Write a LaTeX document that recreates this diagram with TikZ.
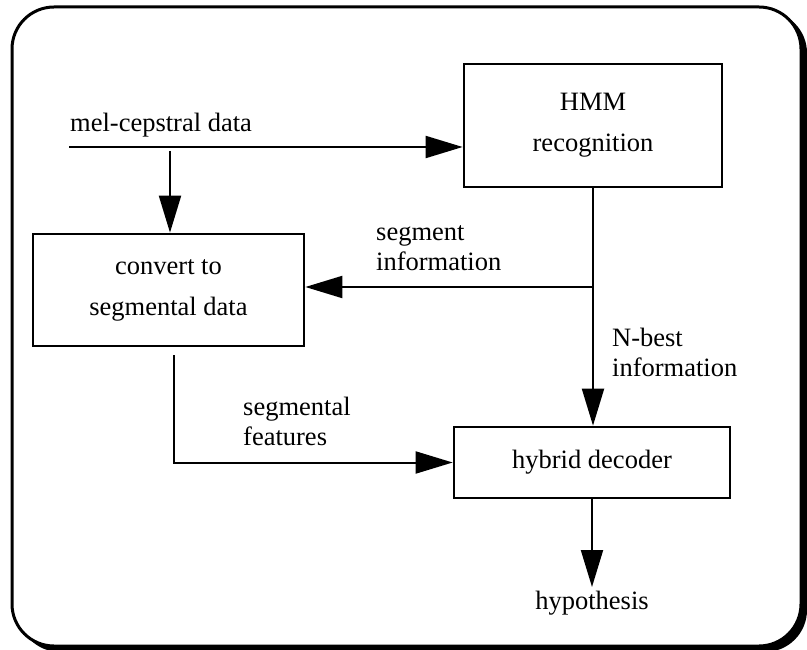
\documentclass[tikz,border=0pt]{standalone}
\usepackage{fontspec}
\setmainfont{Liberation Serif}
\usetikzlibrary{arrows.meta}
\begin{document}
\begin{tikzpicture}[x=1pt,y=-1pt,
  box/.style={draw,line width=2.7pt,inner sep=0pt,align=center,font=\fontsize{26.5}{41}\selectfont},
  lbl/.style={inner sep=0pt,align=left,font=\fontsize{26.5}{30}\selectfont},
  flow/.style={line width=2pt,-{Triangle[length=37pt,width=22pt]}},
  conn/.style={line width=2pt}]
\useasboundingbox (0,0) rectangle (807,650);
\clip (0,0) rectangle (807,650);
% frame with shadow
\fill[black,rounded corners=42pt] (18,11) rectangle (807,652);
\draw[line width=3pt,fill=white,rounded corners=42pt] (12,7) rectangle (801,646);
% boxes
\node[box,minimum width=258pt,minimum height=123pt] (hmm) at (593,125.5) {HMM\\recognition};
\node[box,minimum width=271pt,minimum height=112pt] (conv) at (168.5,290) {convert to\\segmental data};
\node[box,minimum width=276pt,minimum height=71pt] (hyb) at (592,462.5) {hybrid decoder};
% labels
\node[lbl,anchor=west] (mel) at (70,125) {mel-cepstral data};
\node[lbl,anchor=west] (seginfo) at (376,248) {segment\\information};
\node[lbl,anchor=west] (nbest) at (612,352.5) {N-best\\information};
\node[lbl,anchor=west] (segfeat) at (243,421) {segmental\\features};
\node[lbl] (hypo) at (592,603) {hypothesis};
% connectors
\coordinate (melstart) at (69,147);
\draw[flow] (melstart) -- (melstart -| hmm.west);
\coordinate (d1) at (170,151);
\draw[flow] (d1) -- (d1 |- conv.north);
\draw[flow] (hmm.south) -- (hmm.south |- hyb.north);
\coordinate (junc) at (593,287);
\draw[flow] (junc) -- (junc -| conv.east);
\coordinate (s1) at (174,355);
\draw[flow] (s1) |- (hyb.west);
\coordinate (tip) at (592,587);
\draw[flow] (hyb.south) -- (tip);
\end{tikzpicture}
\end{document}
